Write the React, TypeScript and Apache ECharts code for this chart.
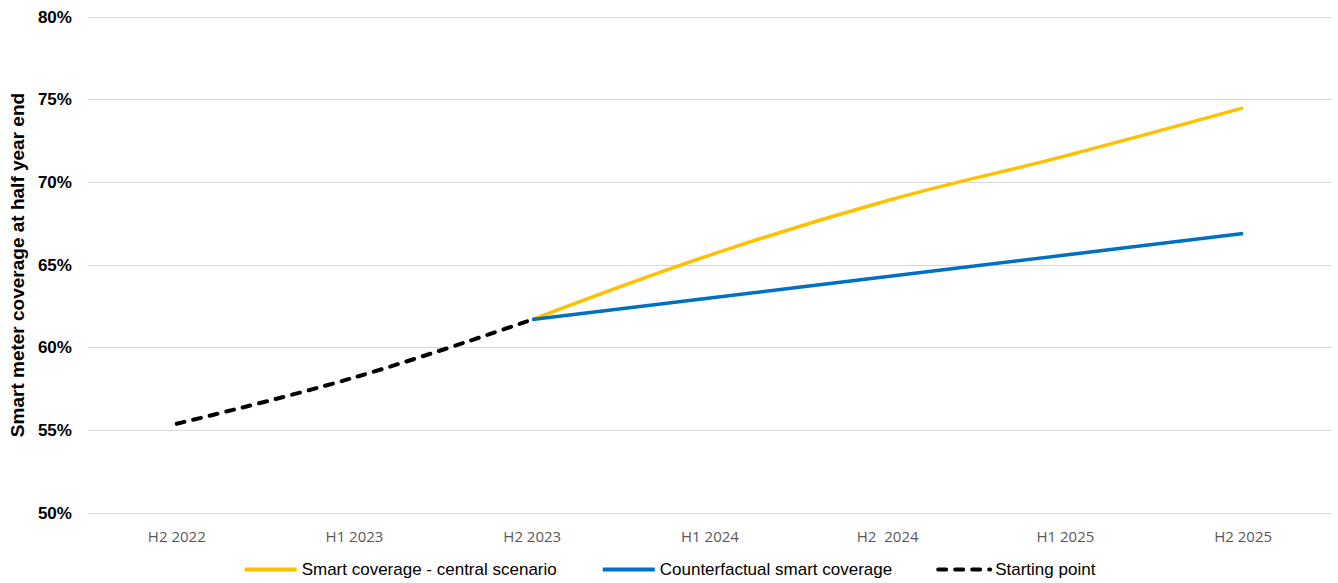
import React, { useEffect, useRef } from "react";
import * as echarts from "echarts";

const categories = ["H2 2022", "H1 2023", "H2 2023", "H1 2024", "H2  2024", "H1 2025", "H2 2025"];
const centralScenario = [null, null, 61.7, 65.6, 68.9, 71.6, 74.5];
const counterfactual = [null, null, 61.7, 63.0, 64.3, 65.6, 66.9];
const startingPoint = [55.4, 58.2, 61.7, null, null, null, null];
const yTicks = { min: 50, max: 80, interval: 5 };

export default function App() {
  const ref = useRef<HTMLDivElement>(null);
  useEffect(() => {
    if (!ref.current) return;
    const chart = echarts.init(ref.current, undefined, { renderer: "svg" });
    chart.setOption({
      animation: false,
      backgroundColor: "#ffffff",
      grid: { left: 82, right: 6, top: 17, bottom: 70 },
      legend: {
        bottom: 0,
        left: "center",
        itemWidth: 52,
        itemHeight: 10,
        itemGap: 44,
        itemStyle: { opacity: 0 },
        lineStyle: { width: 4 },
        textStyle: { fontFamily: "Liberation Sans, Arial", fontSize: 17, color: "#000" },
        data: ["Smart coverage - central scenario", "Counterfactual smart coverage", "Starting point"],
      },
      xAxis: {
        type: "category",
        data: categories,
        boundaryGap: true,
        axisLine: { show: false },
        axisTick: { show: false },
        axisLabel: { color: "#595959", fontSize: 15, fontFamily: "Open Sans, Liberation Sans", margin: 15 },
      },
      yAxis: {
        type: "value",
        min: yTicks.min,
        max: yTicks.max,
        interval: yTicks.interval,
        name: "Smart meter coverage at half year end",
        nameLocation: "middle",
        nameGap: 58,
        nameTextStyle: { fontFamily: "Liberation Sans, Arial", fontSize: 19, fontWeight: "bold", color: "#000" },
        axisLabel: {
          formatter: "{value}%",
          fontFamily: "Liberation Sans, Arial",
          fontSize: 17,
          fontWeight: "bold",
          color: "#000",
          margin: 16,
        },
        splitLine: { lineStyle: { color: "#d9d9d9", width: 1 } },
      },
      series: [
        {
          name: "Smart coverage - central scenario",
          type: "line",
          data: centralScenario,
          smooth: 0.4,
          symbol: "none",
          lineStyle: { color: "#FFC000", width: 3.5 },
          itemStyle: { color: "#FFC000" },
        },
        {
          name: "Counterfactual smart coverage",
          type: "line",
          data: counterfactual,
          smooth: 0.4,
          symbol: "none",
          lineStyle: { color: "#0070C0", width: 3.5 },
          itemStyle: { color: "#0070C0" },
        },
        {
          name: "Starting point",
          type: "line",
          data: startingPoint,
          smooth: 0.4,
          symbol: "none",
          lineStyle: { color: "#000000", width: 4, type: [8, 9], cap: "round" },
          itemStyle: { color: "#000000" },
        },
      ],
    });
    return () => chart.dispose();
  }, []);
  return <div ref={ref} style={{ width: 1338, height: 583, position: "absolute", left: 0, top: 0 }} />;
}
